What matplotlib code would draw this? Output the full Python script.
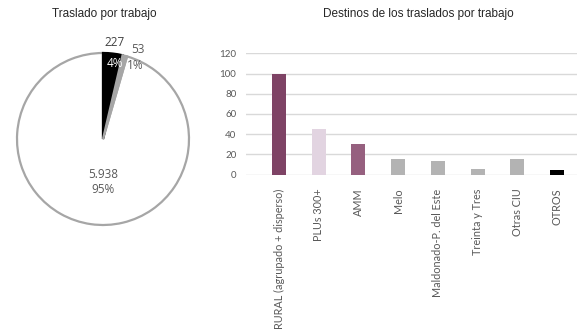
import matplotlib
matplotlib.use("Agg")
import matplotlib.pyplot as plt

pie_labels = ["227", "53", "5.938"]
pie_values = [227, 53, 5938]
pie_pcts = ["4%", "1%", "95%"]
pie_colors = ["#000000", "#A6A6A6", "#FFFFFF"]

categories = ["RURAL (agrupado + disperso)", "PLUs 300+", "AMM", "Melo",
              "Maldonado-P. del Este", "Treinta y Tres", "Otras CIU", "OTROS"]
values = [100, 45, 30, 15, 13, 5, 15, 4]
bar_colors = ["#7E4365", "#E2D4E1", "#96607F", "#B3B3B3", "#B3B3B3",
              "#B3B3B3", "#B3B3B3", "#000000"]
yticks = [0, 20, 40, 60, 80, 100, 120]

W, H = 577, 336
fig = plt.figure(figsize=(W / 100, H / 100), dpi=100)
txtc = "#595959"

# Pie
cx, cy, r = 103, 139, 86
pad = 1.15
axp = fig.add_axes([(cx - r * pad) / W, (H - cy - r * pad) / H, 2 * r * pad / W, 2 * r * pad / H])
wedges, _ = axp.pie(pie_values, colors=pie_colors, startangle=90, counterclock=False,
                    wedgeprops=dict(linewidth=1.6))
wedges[0].set_edgecolor("#000000")
wedges[0].set_zorder(3)
wedges[1].set_edgecolor("#A6A6A6")
wedges[1].set_zorder(3)
wedges[2].set_edgecolor("#A6A6A6")
wedges[2].set_zorder(1)
axp.set_xlim(-pad, pad)
axp.set_ylim(-pad, pad)
axp.set_aspect("equal")
axp.axis("off")
fs = 8.5
axp.text(0.14, 1.12, pie_labels[0], ha="center", va="center", fontsize=fs, color="#404040", family="Open Sans", zorder=5)
axp.text(0.14, 0.88, pie_pcts[0], ha="center", va="center", fontsize=fs, color="white", family="Open Sans", zorder=5)
axp.text(0.40, 1.04, pie_labels[1], ha="center", va="center", fontsize=fs, color=txtc, family="Open Sans", zorder=5)
axp.text(0.38, 0.85, pie_pcts[1], ha="center", va="center", fontsize=fs, color=txtc, family="Open Sans", zorder=5)
axp.text(0.0, -0.41, pie_labels[2], ha="center", va="center", fontsize=fs, color=txtc, family="Open Sans", zorder=5)
axp.text(0.0, -0.59, pie_pcts[2], ha="center", va="center", fontsize=fs, color=txtc, family="Open Sans", zorder=5)

fig.text(104 / W, 1 - 14 / H, "Traslado por trabajo", ha="center", va="center",
         fontsize=8.5, color="#262626", family="Liberation Sans")
fig.text(418 / W, 1 - 14 / H, "Destinos de los traslados por trabajo", ha="center", va="center",
         fontsize=8.5, color="#262626", family="Liberation Sans")

# Bars
y0, y120 = 174.5, 53.3
axb = fig.add_axes([246 / W, 1 - y0 / H, (577 - 246) / W, (y0 - y120) / H])
x = list(range(len(categories)))
axb.bar(x, values, width=0.35, color=bar_colors, linewidth=0, zorder=3)
axb.set_ylim(0, 120)
axb.set_xlim(-0.83, 7.5)
axb.set_yticks(yticks)
axb.yaxis.grid(True, color="#D9D9D9", linewidth=1.0, zorder=0)
axb.set_axisbelow(True)
for s in axb.spines.values():
    s.set_visible(False)
axb.set_xticks(x)
axb.set_xticklabels(categories, rotation=90, fontsize=7.8, color=txtc, family="Lato", va="top")
axb.tick_params(axis="x", length=0, pad=10)
axb.tick_params(axis="y", length=0, labelsize=7, labelcolor=txtc, pad=7)
for lab in axb.get_yticklabels():
    lab.set_family("Lato")

fig.savefig("out.png", dpi=100)
